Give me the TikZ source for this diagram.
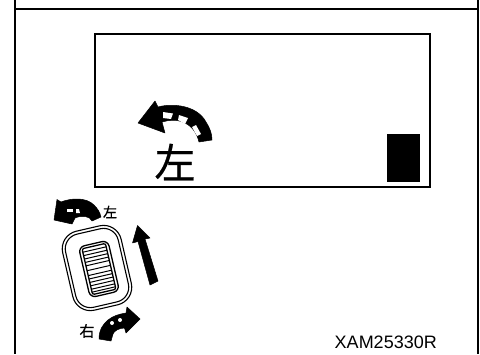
\documentclass[tikz,border=0pt]{standalone}
\usepackage{fontspec}
\setmainfont{Liberation Sans}
\newfontfamily\cjkfont[FakeBold=0.6]{Noto Sans CJK JP}
\usetikzlibrary{positioning}
\tikzset{
  frameline/.style={draw=black,line width=1.7pt},
  screen/.style={draw=black,line width=1.3pt,fill=white,minimum width=335pt,minimum height=153pt,inner sep=0pt},
  block/.style={fill=black,minimum width=33pt,minimum height=48pt,inner sep=0pt},
  ring/.style={draw=black,line width=1.1pt,rounded corners=18pt,rotate=13,inner sep=0pt},
  solid arrow/.style={fill=black,draw=black,line width=.5pt,line join=round},
  window/.style={fill=white,draw=none},
  kanji/.style={text=black,inner sep=0pt},
  code/.style={font=\fontsize{18}{18}\selectfont,text=black,inner sep=0pt,anchor=base east}
}
\begin{document}
\begin{tikzpicture}[x=1pt,y=-1pt]
  \useasboundingbox (0,0) rectangle (480,354);
  % outer frame
  \draw[frameline] (15.3,0) -- (15.3,354);
  \draw[frameline] (477.7,0) -- (477.7,354);
  \draw[frameline] (15.3,9) -- (477.7,9);
  % display
  \node[screen] (display) at (262.5,110.5) {};
  \node[block] (level) at (403.5,158) {};
  \node[kanji,font=\cjkfont\fontsize{41}{41}\selectfont] (leftbig) at (175,162) {左};
  \fill[solid arrow] (138,123) -- (155,101) -- (158,107) .. controls (172,103) and (197,105) .. (206,122)
    .. controls (210,128) and (212,134) .. (212,140) -- (199,142) .. controls (197,134) and (193,127) .. (185,123)
    .. controls (177,119) and (169,120) .. (162,122) -- (165,133) -- cycle;
  \fill[window] (163,112) -- (173,113.5) -- (171,119) -- (163,118) -- cycle;
  \fill[window] (179,115) -- (188,118) -- (185,124) -- (178,120) -- cycle;
  \fill[window] (192,127) -- (196,125) -- (201,134) -- (197,136) -- cycle;
  % switch
  \node[ring,minimum width=60pt,minimum height=81pt] (ringouter) at (97,268) {};
  \node[ring,minimum width=54pt,minimum height=75pt,rounded corners=15pt] (ringinner) at (97,268) {};
  \node[ring,minimum width=30pt,minimum height=52pt,rounded corners=6pt,line width=1.3pt] (knob) at (99,269) {};
  \node[ring,minimum width=24pt,minimum height=47pt,rounded corners=2pt,line width=1.3pt] (knobinner) at (99,269) {};
  \begin{scope}[shift={(99,269)},rotate=13]
    \foreach \ribpos in {-20,-16.5,-13,-9.5,-6,-1,4,7.5,11,14.5,18,21}
      \draw[line width=1pt] (-12,\ribpos) -- (12,\ribpos);
  \end{scope}
  % push arrow
  \fill[solid arrow] (137.5,225.5) -- (150,238) -- (145,239) -- (158,281) -- (150,285) -- (138,241.5) -- (132.5,243) -- cycle;
  % small turn arrows
  \fill[solid arrow] (57,199.5) -- (61,202) .. controls (71,198) and (86,197) .. (94,205) .. controls (97,208) and (100,212) .. (101,217)
    -- (92,221) .. controls (90,216) and (82,215) .. (75,218) -- (72,224) -- (54,220) -- cycle;
  \fill[window] (67,209) -- (73,209) -- (73,212) -- (67,212) -- cycle;
  \fill[window] (76,209) -- (79,209) -- (80,213) -- (76,213) -- cycle;
  \node[kanji,font=\cjkfont\fontsize{14}{14}\selectfont] (leftsmall) at (110,212) {左};
  \fill[solid arrow] (127,307) -- (140,319) -- (126,333) -- (124.5,328) .. controls (119,328) and (114,331) .. (113,334)
    -- (111,341) -- (99,339) .. controls (99,330) and (103,324) .. (108,320) .. controls (113,316) and (119,314) .. (126,313) -- cycle;
  \fill[window] (112,323) circle (2);
  \fill[window] (120,320) circle (2);
  \node[kanji,font=\cjkfont\fontsize{15}{15}\selectfont] (rightsmall) at (87,331) {右};
  \node[code] (partcode) at (437,348) {XAM25330R};
\end{tikzpicture}
\end{document}
